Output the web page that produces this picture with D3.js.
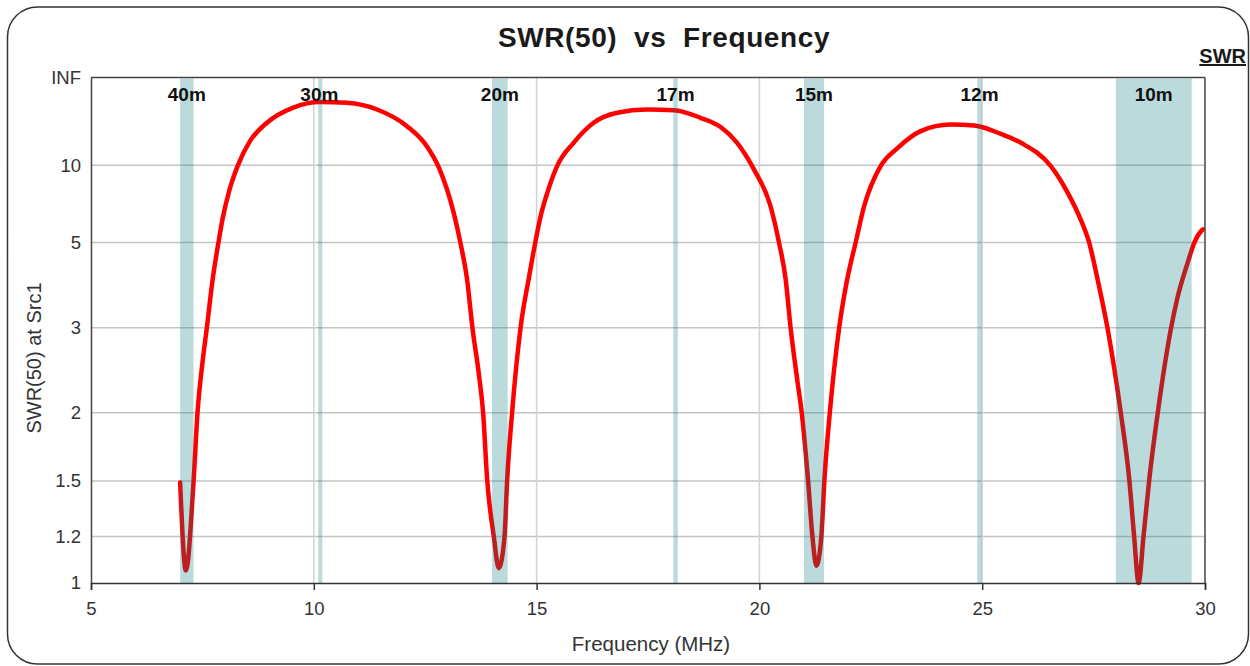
<!DOCTYPE html>
<html>
<head>
<meta charset="utf-8">
<script src="https://cdn.jsdelivr.net/npm/d3@7/dist/d3.min.js"></script>
<style>
  html, body { margin: 0; padding: 0; background: #fff; }
  svg { display: block; font-family: "Liberation Sans", Arial, sans-serif; }
  .pre { white-space: pre; }
</style>
</head>
<body>
<svg id="chart" width="1250" height="666"></svg>
<script>
// ---- data ----
const freqMHz = [7.0, 7.13, 7.30, 7.39, 7.50, 7.60, 7.73, 7.86, 7.95, 8.11, 8.29, 8.57, 8.95, 9.54, 10.14, 10.74, 11.42, 12.09, 12.54, 12.81,
  13.14, 13.29, 13.44, 13.56, 13.70, 13.80, 13.89, 14.04, 14.15, 14.28, 14.34, 14.45, 14.64, 14.82, 14.97, 15.09, 15.24, 15.46, 15.83, 16.28,
  16.81, 17.48, 18.08, 18.68, 19.13, 19.50, 19.88, 20.25, 20.44, 20.59, 20.70, 20.85, 20.95, 21.09, 21.19, 21.28, 21.39, 21.46, 21.58, 21.79,
  21.97, 22.16, 22.35, 22.72, 23.10, 23.62, 24.29, 24.82, 25.42, 25.87, 26.54, 26.92, 27.21, 27.40, 27.59, 27.81, 28.11, 28.30, 28.41, 28.51,
  28.62, 28.75, 28.94, 29.24, 29.39, 29.61, 29.76, 29.91, 29.95];
const swrValues = [1.49, 1.05, 1.49, 2.0, 2.51, 3.0, 3.93, 5.0, 5.94, 7.72, 9.9, 13.9, 19.3, 28, 33.4, 32.6, 26.5, 18.0, 12.8, 9.7,
  6.27, 5.0, 3.93, 3.0, 2.40, 2.0, 1.51, 1.2, 1.06, 1.2, 1.51, 2.0, 3.0, 3.93, 5.0, 6.1, 7.48, 9.9, 13.5, 19.3,
  24.3, 26.5, 26.0, 21.5, 17.7, 13.5, 9.5, 6.63, 5.0, 3.93, 3.0, 2.32, 2.0, 1.51, 1.2, 1.07, 1.2, 1.51, 2.0, 3.0,
  3.93, 5.0, 6.63, 9.9, 12.5, 16.4, 18.6, 18.2, 15.6, 13.5, 9.9, 7.48, 5.94, 5.0, 3.93, 3.0, 2.0, 1.51, 1.2, 1.0,
  1.2, 1.51, 2.0, 3.0, 3.56, 4.36, 5.0, 5.43, 5.5];

const bandNames = ["40m", "30m", "20m", "17m", "15m", "12m", "10m"];
const bandStart = [7.0, 10.1, 14.0, 18.068, 21.0, 24.89, 28.0];
const bandEnd   = [7.3, 10.15, 14.35, 18.168, 21.45, 24.99, 29.7];

const xTicks = [5, 10, 15, 20, 25, 30];
const xGrid = [10, 15, 20, 25];
const yTicks = [1, 1.2, 1.5, 2, 3, 5, 10, Infinity];
const yTickLabels = ["1", "1.2", "1.5", "2", "3", "5", "10", "INF"];

// ---- layout ----
const L = 91, R = 1205, T = 77.5, B = 583;
const svg = d3.select("#chart");

// SWR -> reflection coefficient (chart's vertical axis is linear in |Gamma|)
const gamma = s => (s === Infinity ? 0.99 : (s - 1) / (s + 1));

const x = d3.scaleLinear().domain([5, 30]).range([L, R]);
const y = d3.scaleLinear().domain([0, 0.99]).range([B, T]);

// outer rounded frame
svg.append("rect")
  .attr("x", 7.5).attr("y", 7).attr("width", 1241).attr("height", 657)
  .attr("rx", 30).attr("ry", 30)
  .attr("fill", "#fff").attr("stroke", "#333").attr("stroke-width", 1.5);

// title
svg.append("text").attr("class", "pre")
  .attr("x", 664).attr("y", 47).attr("text-anchor", "middle")
  .attr("font-size", 28).attr("font-weight", "bold").attr("fill", "#1a1a1a")
  .attr("letter-spacing", 0.6)
  .text("SWR(50)  vs  Frequency");

// legend label
svg.append("text")
  .attr("x", 1246).attr("y", 63).attr("text-anchor", "end")
  .attr("font-size", 20).attr("font-weight", "bold").attr("fill", "#1a1a1a")
  .attr("text-decoration", "underline")
  .text("SWR");

// horizontal grid
svg.append("g").selectAll("line").data(yTicks.slice(1, -1)).join("line")
  .attr("x1", L).attr("x2", R)
  .attr("y1", d => y(gamma(d))).attr("y2", d => y(gamma(d)))
  .attr("stroke", "#c4c4c4").attr("stroke-width", 1.5);

// vertical grid
svg.append("g").selectAll("line").data(xGrid).join("line")
  .attr("x1", d => x(d)).attr("x2", d => x(d))
  .attr("y1", T).attr("y2", B)
  .attr("stroke", "#d2d2d2").attr("stroke-width", 1.5);

// SWR curve
const pts = freqMHz.map((f, i) => [f, swrValues[i]]);
svg.append("path").datum(pts)
  .attr("fill", "none").attr("stroke", "#ff0000").attr("stroke-width", 4.5)
  .attr("stroke-linejoin", "round").attr("stroke-linecap", "round")
  .attr("d", d3.line().x(d => x(d[0])).y(d => y(gamma(d[1]))).curve(d3.curveMonotoneX));

// band overlays (drawn on top, translucent)
svg.append("g").selectAll("rect").data(bandNames).join("rect")
  .attr("x", (d, i) => x(bandStart[i]))
  .attr("width", (d, i) => Math.max(4, x(bandEnd[i]) - x(bandStart[i])))
  .attr("y", T + 1).attr("height", B - T - 1)
  .attr("fill", "rgb(0,120,125)").attr("fill-opacity", 0.27);

// band labels
svg.append("g").selectAll("text").data(bandNames).join("text")
  .attr("x", (d, i) => x((bandStart[i] + bandEnd[i]) / 2))
  .attr("y", 101).attr("text-anchor", "middle")
  .attr("font-size", 19).attr("font-weight", "bold").attr("fill", "#111")
  .text(d => d);

// frame top/right
svg.append("line").attr("x1", L).attr("x2", R).attr("y1", T).attr("y2", T)
  .attr("stroke", "#444").attr("stroke-width", 1.5);
svg.append("line").attr("x1", R).attr("x2", R).attr("y1", T).attr("y2", B)
  .attr("stroke", "#444").attr("stroke-width", 1.5);

// axes
const xAxis = svg.append("g").attr("transform", `translate(0,${B})`)
  .call(d3.axisBottom(x).tickValues(xTicks).tickSize(7).tickPadding(12).tickFormat(d3.format("d")));
xAxis.select(".domain").attr("stroke", "#333").attr("stroke-width", 1.5);
xAxis.selectAll(".tick line").attr("stroke", "#333").attr("stroke-width", 1.5);
xAxis.selectAll("text").attr("font-size", 18.5).attr("fill", "#333")
  .attr("font-family", "Liberation Sans, Arial, sans-serif");

const yAxis = svg.append("g").attr("transform", `translate(${L},0)`)
  .call(d3.axisLeft(y).tickValues(yTicks.map(gamma)).tickSize(0).tickPadding(10)
    .tickFormat((d, i) => yTickLabels[i]));
yAxis.select(".domain").attr("stroke", "#444").attr("stroke-width", 1.5);
yAxis.selectAll("text").attr("font-size", 18.5).attr("fill", "#333")
  .attr("font-family", "Liberation Sans, Arial, sans-serif");

// axis titles
svg.append("text")
  .attr("x", 651).attr("y", 651).attr("text-anchor", "middle")
  .attr("font-size", 20.5).attr("fill", "#333")
  .text("Frequency (MHz)");
svg.append("text")
  .attr("transform", "translate(41,358) rotate(-90)").attr("text-anchor", "middle")
  .attr("font-size", 20).attr("fill", "#333")
  .text("SWR(50) at Src1");
</script>
</body>
</html>
